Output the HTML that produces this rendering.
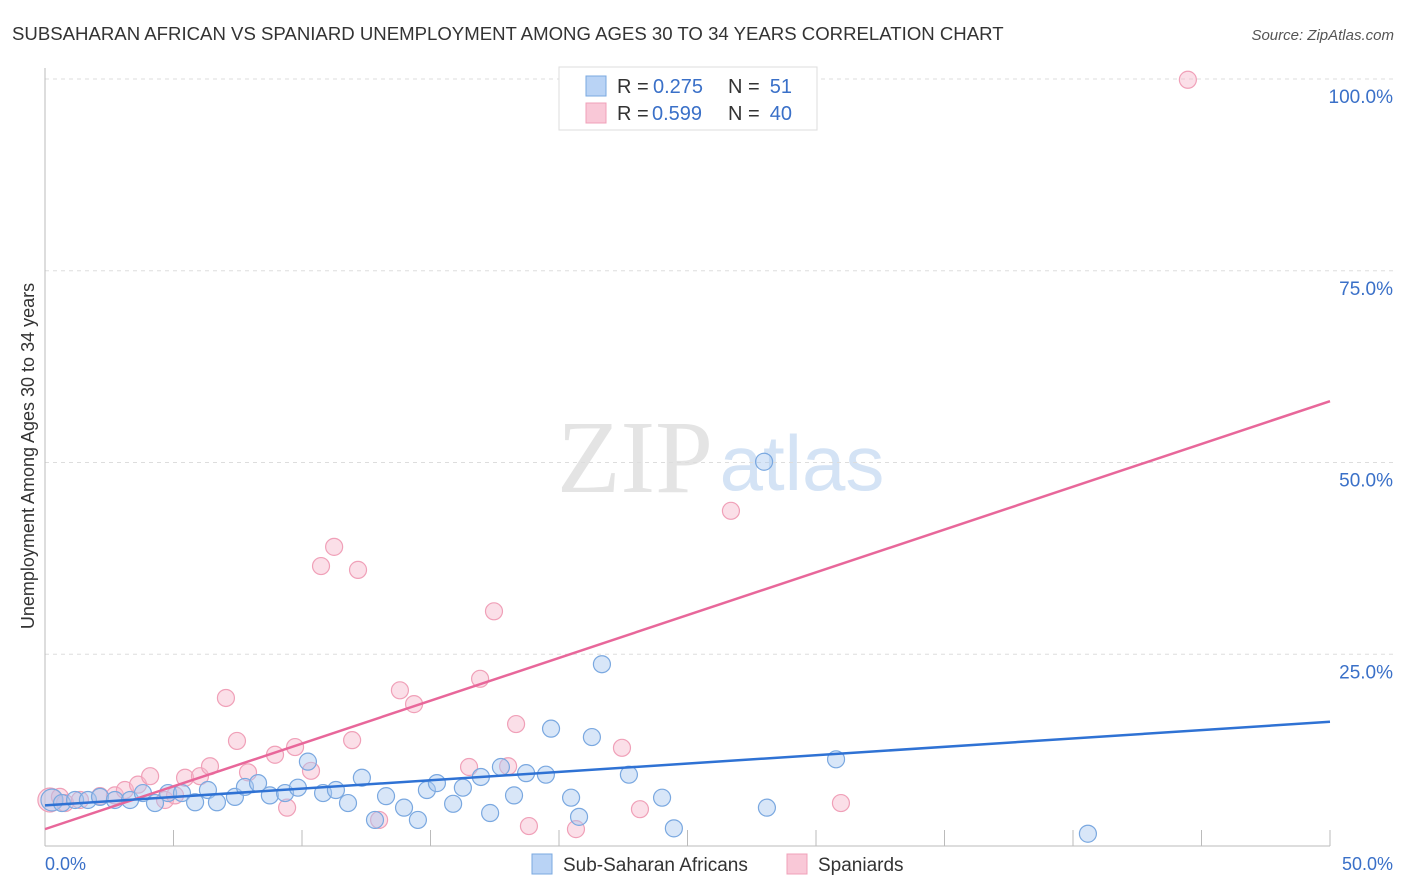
<!DOCTYPE html>
<html><head><meta charset="utf-8"><style>
body{margin:0;background:#fff;font-family:"Liberation Sans",sans-serif}
svg{display:block}
</style></head><body>
<svg width="1406" height="892">
<text x="12" y="40" font-size="18.6" fill="#333">SUBSAHARAN AFRICAN VS SPANIARD UNEMPLOYMENT AMONG AGES 30 TO 34 YEARS CORRELATION CHART</text>
<text x="1394" y="40" font-size="15" fill="#555" text-anchor="end" font-style="italic">Source: ZipAtlas.com</text>
<text x="635" y="492" font-size="104" fill="#e4e4e4" font-family="Liberation Serif" text-anchor="middle">ZIP</text>
<text x="802" y="490" font-size="78" fill="#d4e3f5" text-anchor="middle">atlas</text>
<g id="grid"></g>
<g id="axes"></g>
<g id="marks"></g>
<text transform="translate(34,456) rotate(-90)" font-size="18" fill="#333" text-anchor="middle">Unemployment Among Ages 30 to 34 years</text>
<text x="45" y="870" font-size="18" fill="#3a70c8">0.0%</text>
<text x="1393" y="870" font-size="18" fill="#3a70c8" text-anchor="end">50.0%</text>
<g>
<rect x="559" y="67" width="258" height="63" fill="#fff" stroke="#ddd"/>
<rect x="586" y="76" width="20" height="20" fill="#b9d3f5" stroke="#7aa8e0"/>
<rect x="586" y="103" width="20" height="20" fill="#f9c8d7" stroke="#f0a0b8"/>
<text x="617" y="93" font-size="20" fill="#333">R =</text>
<text x="653" y="93" font-size="20" fill="#3a70c8">0.275</text>
<text x="728" y="93" font-size="20" fill="#333">N =</text>
<text x="792" y="93" font-size="20" fill="#3a70c8" text-anchor="end">51</text>
<text x="617" y="120" font-size="20" fill="#333">R =</text>
<text x="652" y="120" font-size="20" fill="#3a70c8">0.599</text>
<text x="728" y="120" font-size="20" fill="#333">N =</text>
<text x="792" y="120" font-size="20" fill="#3a70c8" text-anchor="end">40</text>
</g>
<g>
<rect x="532" y="854" width="20" height="20" fill="#b9d3f5" stroke="#7aa8e0"/>
<text x="563" y="871" font-size="19" fill="#333">Sub-Saharan Africans</text>
<rect x="787" y="854" width="20" height="20" fill="#f9c8d7" stroke="#f0a0b8"/>
<text x="818" y="871" font-size="19" fill="#333">Spaniards</text>
</g>
</svg>
<script>
const yTicks=[25,50,75,100];
const yTickLabels=["25.0%","50.0%","75.0%","100.0%"];
const xTicks=[5,10,15,20,25,30,35,40,45,50];
const blueX=[0.27,0.66,1.17,1.67,2.14,2.72,3.31,3.81,4.28,4.79,5.33,5.84,6.34,6.69,7.39,7.78,8.29,8.75,9.34,9.84,10.23,10.82,11.32,11.79,12.33,12.84,13.27,13.97,14.51,14.86,15.25,15.88,16.26,16.96,17.32,17.74,18.25,18.72,19.49,19.69,20.47,20.78,21.28,21.67,22.72,24.01,24.47,27.98,28.09,30.78,40.58];
const blueY=[6.0,5.6,6.0,6.0,6.4,6.0,6.0,6.9,5.6,6.9,6.9,5.7,7.3,5.7,6.4,7.7,8.2,6.6,6.9,7.6,11.0,6.9,7.3,5.6,8.9,3.4,6.5,5.0,3.4,7.3,8.2,5.5,7.6,9.0,4.3,10.3,6.6,9.5,9.3,15.3,6.3,3.8,14.2,23.7,9.3,6.3,2.3,50.1,5.0,11.3,1.6];
const pinkX=[0.19,0.58,0.78,1.36,2.14,2.72,3.11,3.62,4.09,4.67,5.06,5.45,6.03,6.42,7.04,7.47,7.90,8.95,9.42,9.73,10.35,10.74,11.25,11.95,12.18,13.0,13.81,14.36,16.5,16.93,17.47,18.02,18.33,18.83,20.66,22.45,23.15,26.69,30.97,44.47];
const pinkY=[6.0,6.4,5.6,6.0,6.5,6.6,7.3,8.0,9.1,6.0,6.6,8.9,9.1,10.4,19.3,13.7,9.6,11.9,5.0,12.9,9.8,36.5,39.0,13.8,36.0,3.4,20.3,18.5,10.3,21.8,30.6,10.4,15.9,2.6,2.2,12.8,4.8,43.7,5.6,99.9];
const blueLine=[5.3,16.2];
const pinkLine=[2.2,58.0];
const X0=45,X1=1330,Y0=846,Y100=79;
const sx=v=>X0+(X1-X0)*v/50;
const sy=v=>Y0-(Y0-Y100)*v/100;
const NS="http://www.w3.org/2000/svg";
function mk(tag,attrs,parent){const e=document.createElementNS(NS,tag);for(const k in attrs)e.setAttribute(k,attrs[k]);document.getElementById(parent).appendChild(e);return e;}
yTicks.forEach((t,i)=>{
 const g=mk('line',{x1:X0,x2:1393,y1:sy(t),y2:sy(t),stroke:'#ddd','stroke-dasharray':'4,4'},'grid');
 
 
 const l=mk('text',{x:1393,y:sy(t)+24,'font-size':19,fill:'#3a70c8','text-anchor':'end'},'grid');
 l.textContent=yTickLabels[i];
 
 
});
let a=mk('line',{x1:X0,x2:X0,y1:68,y2:Y0,stroke:'#bbb'},'axes');


a=mk('line',{x1:X0,x2:X1,y1:Y0,y2:Y0,stroke:'#bbb'},'axes');


xTicks.forEach(t=>{
 const k=mk('line',{x1:sx(t),x2:sx(t),y1:Y0,y2:Y0-16,stroke:'#bbb'},'axes');
 
 
});
pinkX.forEach((x,i)=>{
 const c=mk('circle',{cx:sx(x),cy:sy(pinkY[i]),r:i==0?12:8.5,fill:'rgba(247,185,205,0.45)',stroke:'#f0a0b8','stroke-width':1.2},'marks');
 
 
});
blueX.forEach((x,i)=>{
 const c=mk('circle',{cx:sx(x),cy:sy(blueY[i]),r:i==0?11:8.5,fill:'rgba(168,200,240,0.45)',stroke:'#7aa8e0','stroke-width':1.2},'marks');
 
 
});
let ln=mk('line',{x1:sx(0),y1:sy(pinkLine[0]),x2:sx(50),y2:sy(pinkLine[1]),stroke:'#e8679a','stroke-width':2.5},'marks');


ln=mk('line',{x1:sx(0),y1:sy(blueLine[0]),x2:sx(50),y2:sy(blueLine[1]),stroke:'#2f72d4','stroke-width':2.5},'marks');


</script>
</body></html>
